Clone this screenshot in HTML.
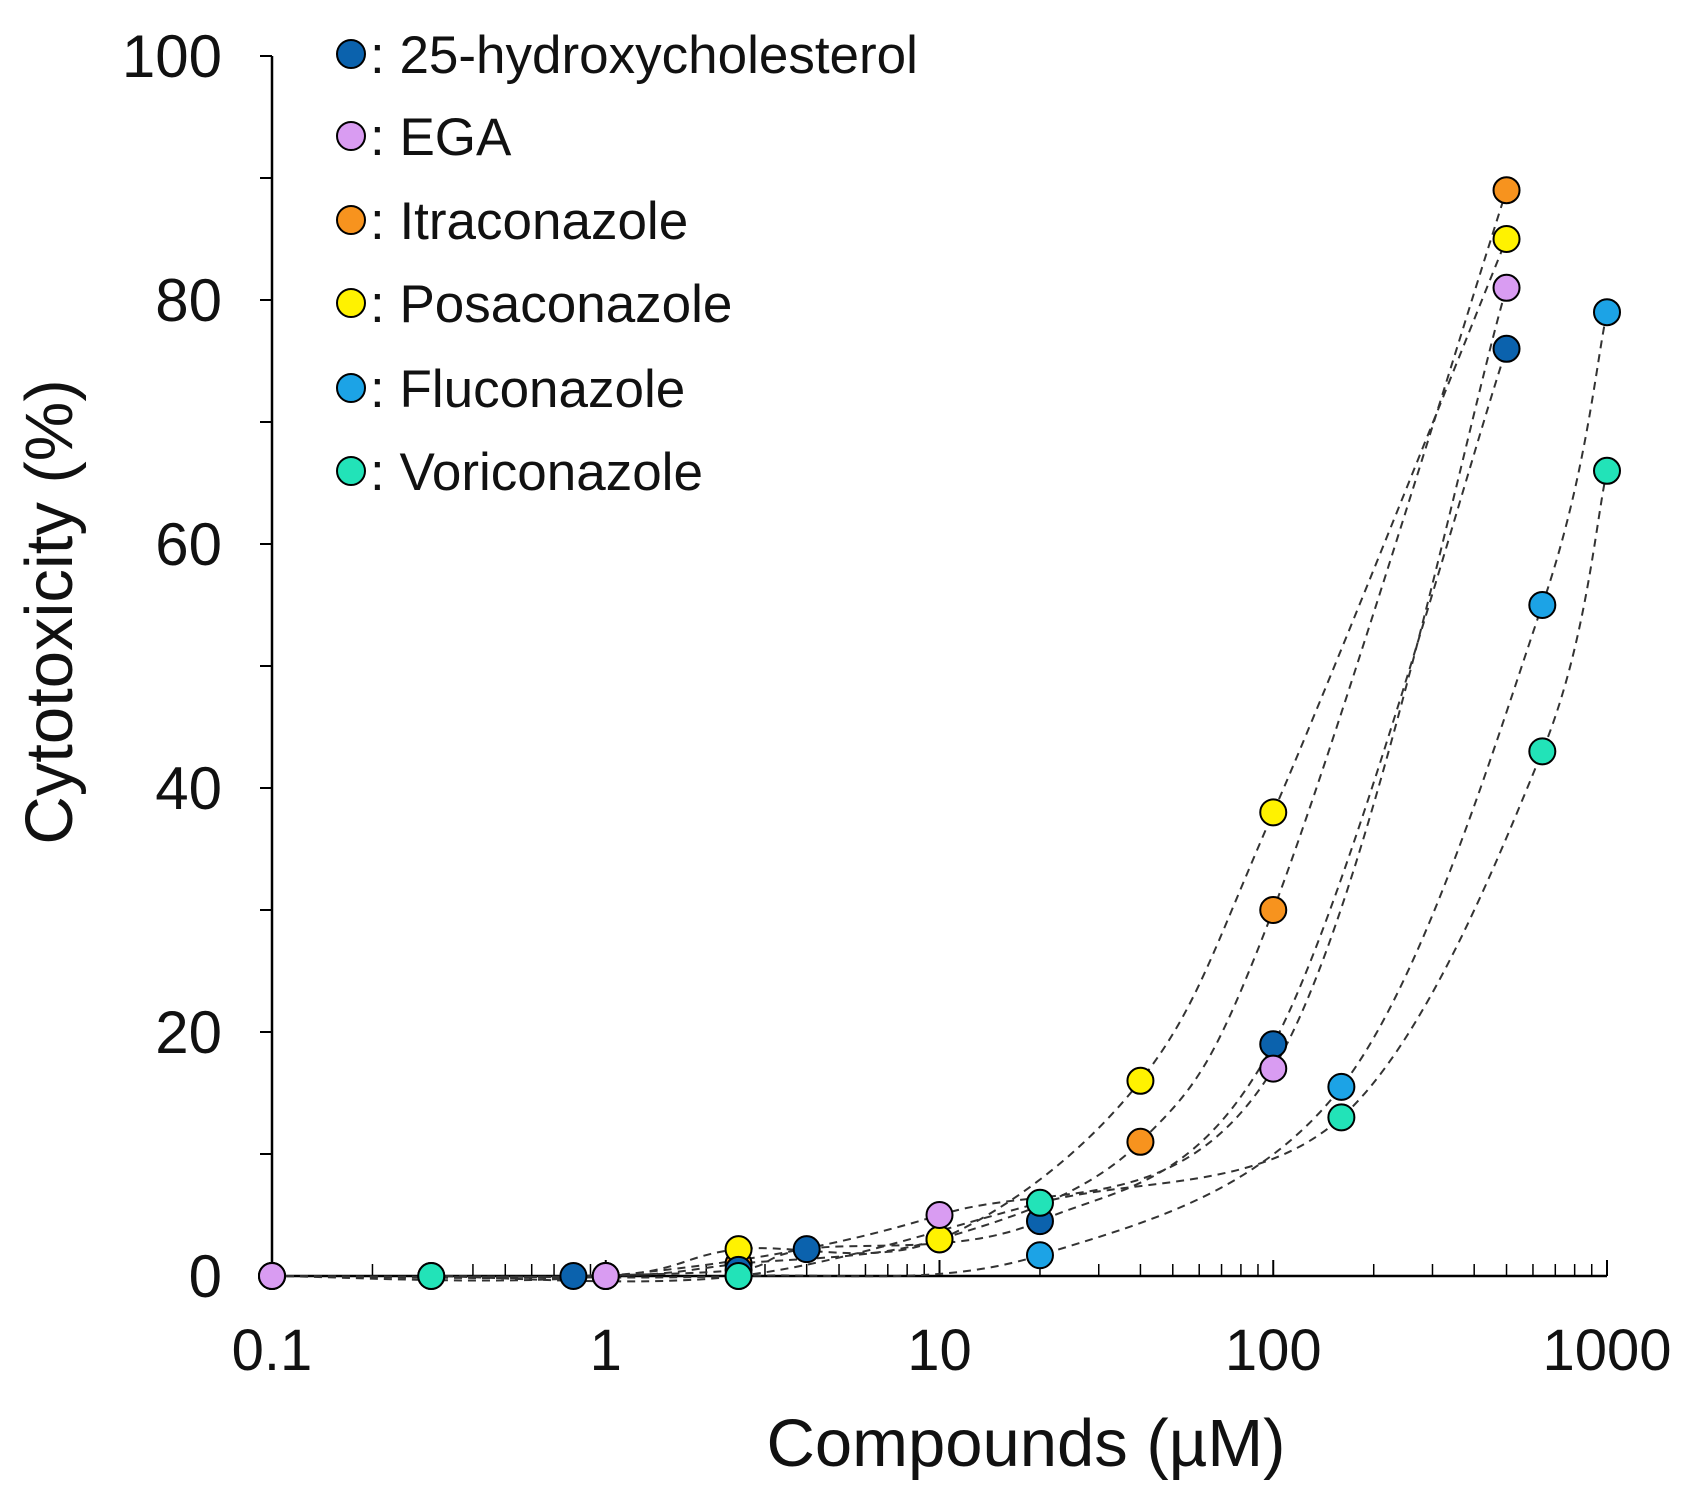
<!DOCTYPE html>
<html><head><meta charset="utf-8"><style>
html,body{margin:0;padding:0;background:#fff;}
svg text{font-family:"Liberation Sans",Arial,sans-serif;fill:#111;}
</style></head><body>
<svg id="chart" width="1684" height="1490" viewBox="0 0 1684 1490" xmlns="http://www.w3.org/2000/svg">
<g id="axes"></g>
<g id="lines"></g>
<g id="points"></g>
<g id="legend"></g>
<text x="0" y="0" font-size="67" text-anchor="middle" transform="translate(72,612) rotate(-90)">Cytotoxicity (%)</text>
<text x="1026" y="1466" font-size="67" text-anchor="middle">Compounds (µM)</text>
</svg>
<script>
const seriesNames = ["25-hydroxycholesterol","EGA","Itraconazole","Posaconazole","Fluconazole","Voriconazole"];
const seriesColors = ["#0b62ad","#d99cf2","#f7931e","#fff200","#1ca3e6","#22e3b8"];
const hcX = [0.8,2.5,4,20,100,500];
const hcY = [0,0.5,2.2,4.5,19,76];
const egaX = [0.1,1,10,100,500];
const egaY = [0,0,5,17,81];
const itraX = [0.1,1,2.5,10,40,100,500];
const itraY = [0,0,1,3,11,30,89];
const posaX = [0.1,1,2.5,10,40,100,500];
const posaY = [0,0,2.2,3,16,38,85];
const fluX = [0.3,2.5,20,160,640,1000];
const fluY = [0,0,1.7,15.5,55,79];
const voriX = [0.3,2.5,20,160,640,1000];
const voriY = [0,0,6,13,43,66];
const xTickLabels = ["0.1","1","10","100","1000"];
const yTickLabels = [0,20,40,60,80,100];

const NS="http://www.w3.org/2000/svg";
const X0=272,X1=1607,Y0=1276,Y1=56;
function xs(v){return X0+(Math.log10(v)+1)/4*(X1-X0);}
function ys(v){return Y0-v/100*(Y0-Y1);}
function mk(tag,attrs,parent){const e=document.createElementNS(NS,tag);for(const k in attrs)e.setAttribute(k,attrs[k]);parent.appendChild(e);return e;}
const axes=document.getElementById('axes');
let e=mk('line',{x1:X0,y1:Y1,x2:X0,y2:Y0,stroke:'#000','stroke-width':2.5},axes);


e=mk('line',{x1:X0,y1:Y0,x2:X1,y2:Y0,stroke:'#000','stroke-width':2.5},axes);


for(let v=0;v<=100;v+=10){
  e=mk('line',{x1:X0-12,y1:ys(v),x2:X0,y2:ys(v),stroke:'#000','stroke-width':2},axes);
  
  
}
yTickLabels.forEach(v=>{
  const t=mk('text',{x:X0-50,y:ys(v)+21,'font-size':60,'text-anchor':'end'},axes);
  t.textContent=v;
  
  
});
for(let d=-1;d<3;d++){for(let m=2;m<=9;m++){
  const x=xs(m*Math.pow(10,d));
  e=mk('line',{x1:x,y1:Y0,x2:x,y2:Y0-12,stroke:'#000','stroke-width':1.5},axes);
  
  
}}
xTickLabels.forEach(s=>{
  const x=xs(parseFloat(s));
  e=mk('line',{x1:x,y1:Y0,x2:x,y2:Y0-16,stroke:'#000','stroke-width':2},axes);
  
  
  const t=mk('text',{x:x,y:1370,'font-size':58,'text-anchor':'middle'},axes);
  t.textContent=s;
  
  
});
const allX=[hcX,egaX,itraX,posaX,fluX,voriX], allY=[hcY,egaY,itraY,posaY,fluY,voriY];
const lines=document.getElementById('lines'), pts=document.getElementById('points');
function smooth(P){
  let d='M'+P[0][0]+','+P[0][1];
  for(let i=0;i<P.length-1;i++){
    const p0=P[Math.max(0,i-1)],p1=P[i],p2=P[i+1],p3=P[Math.min(P.length-1,i+2)];
    const c1=[p1[0]+(p2[0]-p0[0])/6,p1[1]+(p2[1]-p0[1])/6];
    const c2=[p2[0]-(p3[0]-p1[0])/6,p2[1]-(p3[1]-p1[1])/6];
    d+=' C'+c1+' '+c2+' '+p2;
  }
  return d;
}
allX.forEach((xa,i)=>{
  const P=xa.map((x,j)=>[xs(x),ys(allY[i][j])]);
  const p=mk('path',{d:smooth(P),fill:'none',stroke:'#333','stroke-width':2,'stroke-dasharray':'8,6'},lines);
  
  
});
const drawOrder=[2,3,4,0,5,1];
drawOrder.forEach(i=>{
  allX[i].forEach((x,j)=>{
    const c=mk('circle',{cx:xs(x),cy:ys(allY[i][j]),r:13,fill:seriesColors[i],stroke:'#000','stroke-width':2},pts);
    
    
  });
});
const leg=document.getElementById('legend');
const legY=[54,136,220,303,388,471];
seriesNames.forEach((n,i)=>{
  const c=mk('circle',{cx:351,cy:legY[i],r:14,fill:seriesColors[i],stroke:'#000','stroke-width':2},leg);
  
  
  const t=mk('text',{x:370,y:legY[i]+19,'font-size':53},leg);
  t.textContent=': '+n;
  
  
});
</script>
</body></html>
